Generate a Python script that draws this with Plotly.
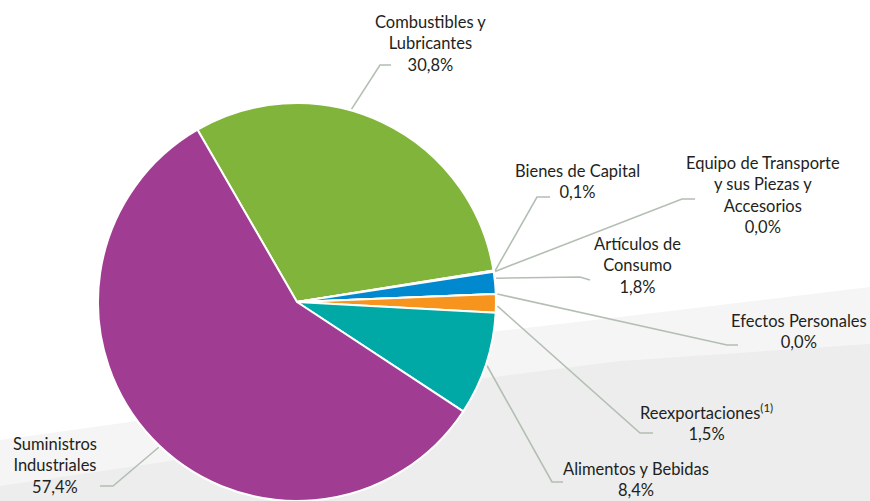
import plotly.graph_objects as go
import numpy as np

# ---------------- data ----------------
categories = [
    "Combustibles y Lubricantes",
    "Bienes de Capital",
    "Equipo de Transporte y sus Piezas y Accesorios",
    "Artículos de Consumo",
    "Efectos Personales",
    "Reexportaciones",
    "Alimentos y Bebidas",
    "Suministros Industriales",
]
values = [30.8, 0.1, 0.0, 1.8, 0.0, 1.5, 8.4, 57.4]
label_names = [
    "Combustibles y<br>Lubricantes",
    "Bienes de Capital",
    "Equipo de Transporte<br>y sus Piezas y<br>Accesorios",
    "Artículos de<br>Consumo",
    "Efectos Personales",
    "Reexportaciones<sup>(1)</sup>",
    "Alimentos y Bebidas",
    "Suministros<br>Industriales",
]
colors = ["#80b43a", "#6d6e71", "#6d6e71", "#0089cf", "#6d6e71", "#f7941d", "#00a9a5", "#a03c92"]

# ---------------- layout constants (pixels) ----------------
W, H = 870, 501
CX, CY, R = 297, 302, 199
ROT = -30
label_pos = [(430, 43.5), (577, 181), (763, 195), (637, 265), (799, 331.5),
             (706, 422.5), (636, 479), (55, 465)]
elbows = [(380, 65), (537, 197), (682, 199), (580, 277), (727, 345),
          (640, 433), (552, 482), (113, 486)]
ends = [(391, 65), (550, 197), (695, 199), (590, 280), (738, 345),
        (653, 433), (563, 482), (100, 486)]
anchor_frac = [0.413, 0.5, 0.5, 0.3, 0.5, 0.64, 0.51, 0.485]

LINE_COL = "#b3bfb2"
TEXT_COL = "#231f20"
FONT = "Lato"
FS = 16.5

fig = go.Figure()

# pie
fig.add_trace(go.Pie(
    labels=categories, values=values, sort=False, direction="clockwise",
    rotation=ROT, textinfo="none", hoverinfo="label+percent",
    marker=dict(colors=colors, line=dict(color="white", width=2)),
    domain=dict(x=[(CX - R) / W, (CX + R) / W], y=[1 - (CY + R) / H, 1 - (CY - R) / H]),
    showlegend=False,
))

# leader lines, start computed from slice geometry
total = sum(values)
cum = np.cumsum([0] + values[:-1])
lx, ly = [], []
for i, v in enumerate(values):
    ang = np.deg2rad(ROT + 360 * (cum[i] + anchor_frac[i] * v) / total)
    sx, sy = CX + (R + 1.5) * np.sin(ang), CY - (R + 1.5) * np.cos(ang)
    lx += [sx, elbows[i][0], ends[i][0], None]
    ly += [sy, elbows[i][1], ends[i][1], None]
fig.add_trace(go.Scatter(x=lx, y=ly, mode="lines", line=dict(color=LINE_COL, width=1.6),
                         hoverinfo="skip", showlegend=False))

# labels
for i, v in enumerate(values):
    pct = f"{v:.1f}".replace(".", ",") + "%"
    fig.add_annotation(x=label_pos[i][0], y=label_pos[i][1], xref="x", yref="y",
                       text=f"{label_names[i]}<br>{pct}", showarrow=False,
                       xanchor="center", yanchor="middle", align="center",
                       font=dict(family=FONT, size=FS, color=TEXT_COL))

# background swoosh bands
fig.add_shape(type="path", xref="x", yref="y", layer="below", line_width=0,
              fillcolor="#f5f5f5",
              path="M 0,440 L 130,422 L 490,332 L 620,317 L 870,287 L 870,501 L 0,501 Z")
fig.add_shape(type="path", xref="x", yref="y", layer="below", line_width=0,
              fillcolor="#ededed",
              path="M 0,486 L 170,461 L 478,379 L 620,361 L 870,344 L 870,501 L 0,501 Z")

fig.update_xaxes(range=[0, W], visible=False, fixedrange=True)
fig.update_yaxes(range=[H, 0], visible=False, fixedrange=True)
fig.update_layout(width=W, height=H, margin=dict(l=0, r=0, t=0, b=0, pad=0),
                  paper_bgcolor="white", plot_bgcolor="white",
                  xaxis=dict(domain=[0, 1]), yaxis=dict(domain=[0, 1]))

fig.write_html("out.html", config={"displayModeBar": False},
               post_script="document.body.style.margin='0';document.body.style.overflow='hidden';")
